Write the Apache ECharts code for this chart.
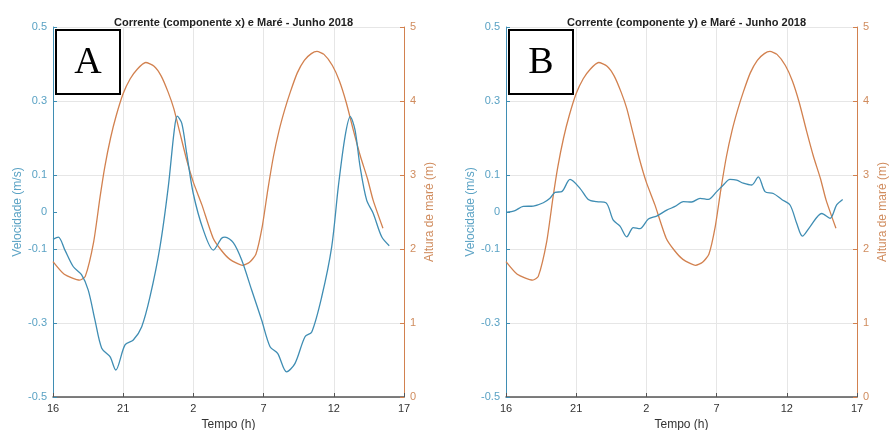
<!DOCTYPE html>
<html>
<head>
<meta charset="utf-8">
<script src="https://cdn.jsdelivr.net/npm/echarts@6/dist/echarts.min.js"></script>
<style>
    html, body { margin: 0; padding: 0; background: #fff; }
    #chart { width: 889px; height: 430px; }
</style>
</head>
<body>
<div id="chart"></div>
<script>
// Tempo em horas desde 16h (valores > 24 = dia seguinte)
const tideTime = [16.0, 16.8, 17.9, 18.3, 18.9, 19.35, 19.7, 20.1, 20.5, 21.0, 21.5, 22.0, 22.6, 23.2, 23.7, 24.2, 24.6, 25.0, 25.5, 26.0, 26.6, 27.4, 28.0, 28.6, 29.5, 30.0, 30.45, 30.9, 31.3, 31.7, 32.1, 32.5, 32.9, 33.4, 33.9, 34.4, 34.8, 35.3, 35.9, 36.4, 36.9, 37.4, 37.9, 38.4, 38.8, 39.5];
const tideHeight = [1.83, 1.66, 1.58, 1.63, 2.1, 2.7, 3.12, 3.5, 3.8, 4.1, 4.3, 4.43, 4.52, 4.47, 4.34, 4.12, 3.9, 3.6, 3.22, 2.9, 2.6, 2.15, 1.98, 1.86, 1.78, 1.82, 1.93, 2.3, 2.8, 3.25, 3.6, 3.88, 4.12, 4.38, 4.55, 4.64, 4.67, 4.63, 4.48, 4.27, 3.97, 3.6, 3.25, 2.95, 2.66, 2.28];

// Componente x da corrente
const velXTime = [16.0, 16.38, 16.85, 17.45, 18.04, 18.51, 18.99, 19.47, 20.06, 20.47, 21.13, 21.72, 22.32, 22.91, 23.62, 24.21, 24.64, 24.85, 25.17, 25.52, 25.99, 26.71, 27.42, 28.01, 28.25, 28.84, 29.44, 30.15, 30.86, 31.46, 32.0, 32.64, 33.24, 33.95, 34.43, 35.14, 35.85, 36.32, 36.8, 37.17, 37.51, 37.87, 38.34, 38.81, 39.41, 39.95];
const velX = [-0.074, -0.068, -0.103, -0.148, -0.17, -0.211, -0.292, -0.368, -0.391, -0.427, -0.359, -0.346, -0.31, -0.229, -0.094, 0.068, 0.222, 0.259, 0.24, 0.159, 0.05, -0.049, -0.103, -0.071, -0.068, -0.083, -0.13, -0.211, -0.292, -0.364, -0.382, -0.432, -0.409, -0.337, -0.324, -0.229, -0.094, 0.068, 0.204, 0.258, 0.222, 0.123, 0.032, -0.004, -0.067, -0.091];

// Componente y da corrente
const velYTime = [16.0, 16.64, 17.23, 17.94, 18.66, 19.13, 19.49, 19.97, 20.56, 21.27, 21.86, 22.46, 23.12, 23.64, 24.12, 24.6, 25.07, 25.54, 26.14, 26.73, 27.45, 28.04, 28.63, 29.23, 29.82, 30.41, 31.01, 31.48, 31.95, 32.43, 32.9, 33.5, 33.97, 34.45, 35.04, 35.64, 36.23, 36.71, 37.11, 37.65, 38.49, 39.08, 39.55, 39.98];
const velY = [-0.001, 0.004, 0.015, 0.016, 0.025, 0.037, 0.053, 0.055, 0.088, 0.064, 0.034, 0.028, 0.025, -0.022, -0.038, -0.067, -0.042, -0.045, -0.019, -0.011, 0.005, 0.015, 0.028, 0.027, 0.037, 0.034, 0.055, 0.073, 0.088, 0.086, 0.078, 0.073, 0.095, 0.055, 0.05, 0.034, 0.019, -0.031, -0.065, -0.04, -0.004, -0.017, 0.019, 0.034];

// Rótulos dos eixos
const velTicks = [-0.5, -0.3, -0.1, 0, 0.1, 0.3, 0.5];
const titles = ['Corrente (componente x) e Maré - Junho 2018', 'Corrente (componente y) e Maré - Junho 2018'];
const panelLetters = ['A', 'B'];

// Cores
const BLUE = '#3f8db3';
const BLUE_LABEL = '#5aa2c4';
const ORANGE = '#d2814f';
const ORANGE_LABEL = '#d08c5e';
const GRID_LINE = '#e6e6e6';
const FONT = 'Liberation Sans, Arial, sans-serif';

const panels = [
    { left: 53, top: 27, width: 351, height: 370 },
    { left: 506, top: 27, width: 351, height: 370 }
];

const zip = (xs, ys) => xs.map((x, i) => [x, ys[i]]);

function buildOption() {
    // outerBoundsMode 'none' — a área do gráfico fica fixa
    const grid = panels.map(p => ({
        left: p.left, top: p.top, width: p.width, height: p.height,
        containLabel: false, outerBoundsMode: 'none'
    }));

    const title = panels.map((p, i) => ({
        text: titles[i],
        left: p.left + p.width / 2,
        top: 12,
        textAlign: 'center',
        textStyle: { fontFamily: FONT, fontSize: 11, fontWeight: 'bold', color: '#222' }
    }));

    const xAxis = panels.map((p, i) => ({
        type: 'value',
        gridIndex: i,
        min: 16,
        max: 41,
        interval: 5,
        name: 'Tempo (h)',
        nameLocation: 'middle',
        nameGap: 20,
        nameTextStyle: { fontFamily: FONT, fontSize: 12, color: '#333' },
        axisLine: { onZero: false, lineStyle: { color: '#555', width: 1.5 } },
        axisTick: { inside: true, length: 4, lineStyle: { color: '#555' } },
        axisLabel: {
            fontFamily: FONT, fontSize: 11, color: '#333', margin: 6,
            formatter: v => String(v % 24)
        },
        splitLine: { show: true, lineStyle: { color: GRID_LINE } }
    }));

    const yAxis = [];
    panels.forEach((p, i) => {
        yAxis.push({
            type: 'value',
            gridIndex: i,
            position: 'left',
            min: -0.5,
            max: 0.5,
            name: 'Velocidade (m/s)',
            nameLocation: 'middle',
            nameGap: 27,
            nameTextStyle: { fontFamily: FONT, fontSize: 12, color: BLUE_LABEL },
            axisLine: { show: true, onZero: false, lineStyle: { color: BLUE, width: 1 } },
            axisTick: { show: true, inside: true, length: 4, customValues: velTicks },
            axisLabel: {
                fontFamily: FONT, fontSize: 11, color: BLUE_LABEL, margin: 6,
                customValues: velTicks
            },
            splitLine: { show: false }
        });
        yAxis.push({
            type: 'value',
            gridIndex: i,
            position: 'right',
            min: 0,
            max: 5,
            interval: 1,
            name: 'Altura de maré (m)',
            nameLocation: 'middle',
            nameGap: 20,
            nameTextStyle: { fontFamily: FONT, fontSize: 12, color: ORANGE_LABEL },
            axisLine: { show: true, onZero: false, lineStyle: { color: ORANGE, width: 1 } },
            axisTick: { show: true, inside: true, length: 4 },
            axisLabel: { fontFamily: FONT, fontSize: 11, color: ORANGE_LABEL, margin: 6 },
            splitLine: { show: true, lineStyle: { color: GRID_LINE } }
        });
    });

    const lineBase = { type: 'line', showSymbol: false, symbol: 'none', z: 3 };
    const velocities = [zip(velXTime, velX), zip(velYTime, velY)];
    const tide = zip(tideTime, tideHeight);

    const series = [];
    panels.forEach((p, i) => {
        series.push(Object.assign({}, lineBase, {
            name: 'Maré',
            xAxisIndex: i,
            yAxisIndex: i * 2 + 1,
            smooth: 0.2,
            data: tide,
            lineStyle: { color: ORANGE, width: 1.3 }
        }));
        series.push(Object.assign({}, lineBase, {
            name: 'Velocidade',
            xAxisIndex: i,
            yAxisIndex: i * 2,
            smooth: 0.3,
            data: velocities[i],
            lineStyle: { color: BLUE, width: 1.3 }
        }));
    });

    // Caixas com a letra do painel
    const graphic = panels.map((p, i) => ({
        type: 'group',
        left: p.left + 2,
        top: p.top + 2,
        z: 10,
        children: [
            {
                type: 'rect',
                shape: { x: 0, y: 0, width: 64, height: 64 },
                style: { fill: '#fff', stroke: '#000', lineWidth: 2 }
            },
            {
                type: 'text',
                x: 32,
                y: 33,
                style: {
                    text: panelLetters[i],
                    font: '38px "Liberation Serif", "DejaVu Serif", serif',
                    fill: '#000',
                    align: 'center',
                    verticalAlign: 'middle'
                }
            }
        ]
    }));

    return { animation: false, backgroundColor: '#fff', title, grid, xAxis, yAxis, series, graphic };
}

document.addEventListener('DOMContentLoaded', function() {
    if (typeof echarts === 'undefined') {
        console.warn('ECharts não carregado');
        return;
    }
    const chart = echarts.init(document.getElementById('chart'));
    chart.setOption(buildOption());
});
</script>
</body>
</html>
